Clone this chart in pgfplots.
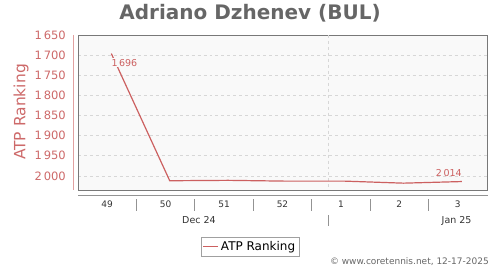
\documentclass[border=0pt]{standalone}
\usepackage{fontspec}
\setmainfont{DejaVu Sans}
\usepackage{pgfplots}
\pgfplotsset{compat=1.18}
\definecolor{linered}{RGB}{204,96,96}
\definecolor{tickpink}{RGB}{205,105,105}
\definecolor{axispink}{RGB}{225,160,160}
\definecolor{titlegray}{RGB}{102,102,102}
\definecolor{plotbg}{RGB}{249,249,249}
\definecolor{boxgray}{RGB}{120,120,120}
\definecolor{gridgray}{RGB}{215,215,215}
\begin{document}
\begin{tikzpicture}
\path[use as bounding box] (0,0) rectangle (500bp,270bp);
\begin{axis}[
  at={(78bp,80bp)}, anchor=south west,
  scale only axis, width=409bp, height=155bp,
  xmin=-0.5, xmax=6.5,
  ymin=1650, ymax=2035, y dir=reverse,
  axis background/.style={fill=plotbg},
  axis line style={boxgray, line width=0.8bp},
  clip=false,
  xtick={0,1,2,3,4,5,6},
  xticklabels={49,50,51,52,1,2,3},
  x tick style={draw=none},
  xticklabel style={anchor=base, yshift=-17.5bp, inner sep=0pt, font=\fontsize{9bp}{11bp}\selectfont, text=black!80},
  ytick={1650,1700,1750,1800,1850,1900,1950,2000},
  y tick style={draw=none},
  yticklabel style={anchor=east, inner sep=0pt, xshift=-12bp, font=\fontsize{11.5bp}{13bp}\selectfont, text=tickpink},
  /pgf/number format/assume math mode=true,
  /pgf/number format/1000 sep={\,},
  ymajorgrids,
  grid style={gridgray, dashed, line width=0.6bp},
  ylabel={ATP Ranking},
  ylabel style={at={(axis description cs:-0.139,0.503)}, anchor=center, font=\fontsize{15.5bp}{18bp}\selectfont, text=tickpink},
  legend style={at={(axis description cs:0.4205,-0.3645)}, anchor=center, draw=boxgray!70, fill=white, font=\fontsize{12bp}{14bp}\selectfont, inner sep=2bp},
  legend cell align=left,
  legend image code/.code={\draw[#1] (0bp,0bp) -- (15bp,0bp);},
]
% vertical grid at month boundary (Jan 1)
\draw[gridgray, dashed, line width=0.6bp] (axis cs:3.786,1650) -- (axis cs:3.786,2035);
\addplot[linered, line width=1.2bp] coordinates {
  (0.07,1696) (1.07,2012) (2.07,2011) (3.07,2013) (4.07,2013) (5.07,2018) (6.07,2014)
};
\addlegendentry{ATP Ranking}
\node[anchor=base west, fill=plotbg, inner sep=1bp, xshift=-1bp, yshift=-12.7bp, font=\fontsize{9.5bp}{11bp}\selectfont, text=linered] at (axis cs:0.07,1696) {1\,696};
\node[anchor=base east, inner sep=0bp, yshift=5.3bp, font=\fontsize{9.5bp}{11bp}\selectfont, text=linered] at (axis cs:6.07,2014) {2\,014};
% separate y axis line
\draw[axispink, line width=0.8bp] ([xshift=-5bp]axis cs:-0.5,1650) -- ([xshift=-5bp]axis cs:-0.5,2035);
% separate x axis line
\draw[boxgray!80, line width=0.8bp] ([yshift=-5bp]axis cs:-0.5,2035) -- ([yshift=-5bp,xshift=1bp]axis cs:6.5,2035);
\pgfplotsinvokeforeach{0.5,1.5,2.5,3.5,4.5,5.5}{
  \draw[boxgray!80, line width=0.8bp] ([yshift=-9bp]axis cs:#1,2035) -- ([yshift=-21bp]axis cs:#1,2035);
}
\draw[boxgray!80, line width=0.8bp] ([yshift=-25bp]axis cs:3.786,2035) -- ([yshift=-36bp]axis cs:3.786,2035);
\node[anchor=base, inner sep=0pt, yshift=-33bp, font=\fontsize{9.5bp}{11bp}\selectfont, text=black!80] at (axis cs:1.57,2035) {Dec 24};
\node[anchor=base, inner sep=0pt, yshift=-33bp, font=\fontsize{9.5bp}{11bp}\selectfont, text=black!80] at (axis cs:5.98,2035) {Jan 25};
\end{axis}
\node[anchor=base, inner sep=0pt, font=\fontsize{20bp}{24bp}\selectfont\bfseries, text=titlegray] at (250bp,250bp) {Adriano Dzhenev (BUL)};
\node[anchor=base east, inner sep=0pt, font=\fontsize{9bp}{11bp}\selectfont, text=titlegray] at (489bp,6bp) {© www.coretennis.net, 12-17-2025};
\end{tikzpicture}
\end{document}
